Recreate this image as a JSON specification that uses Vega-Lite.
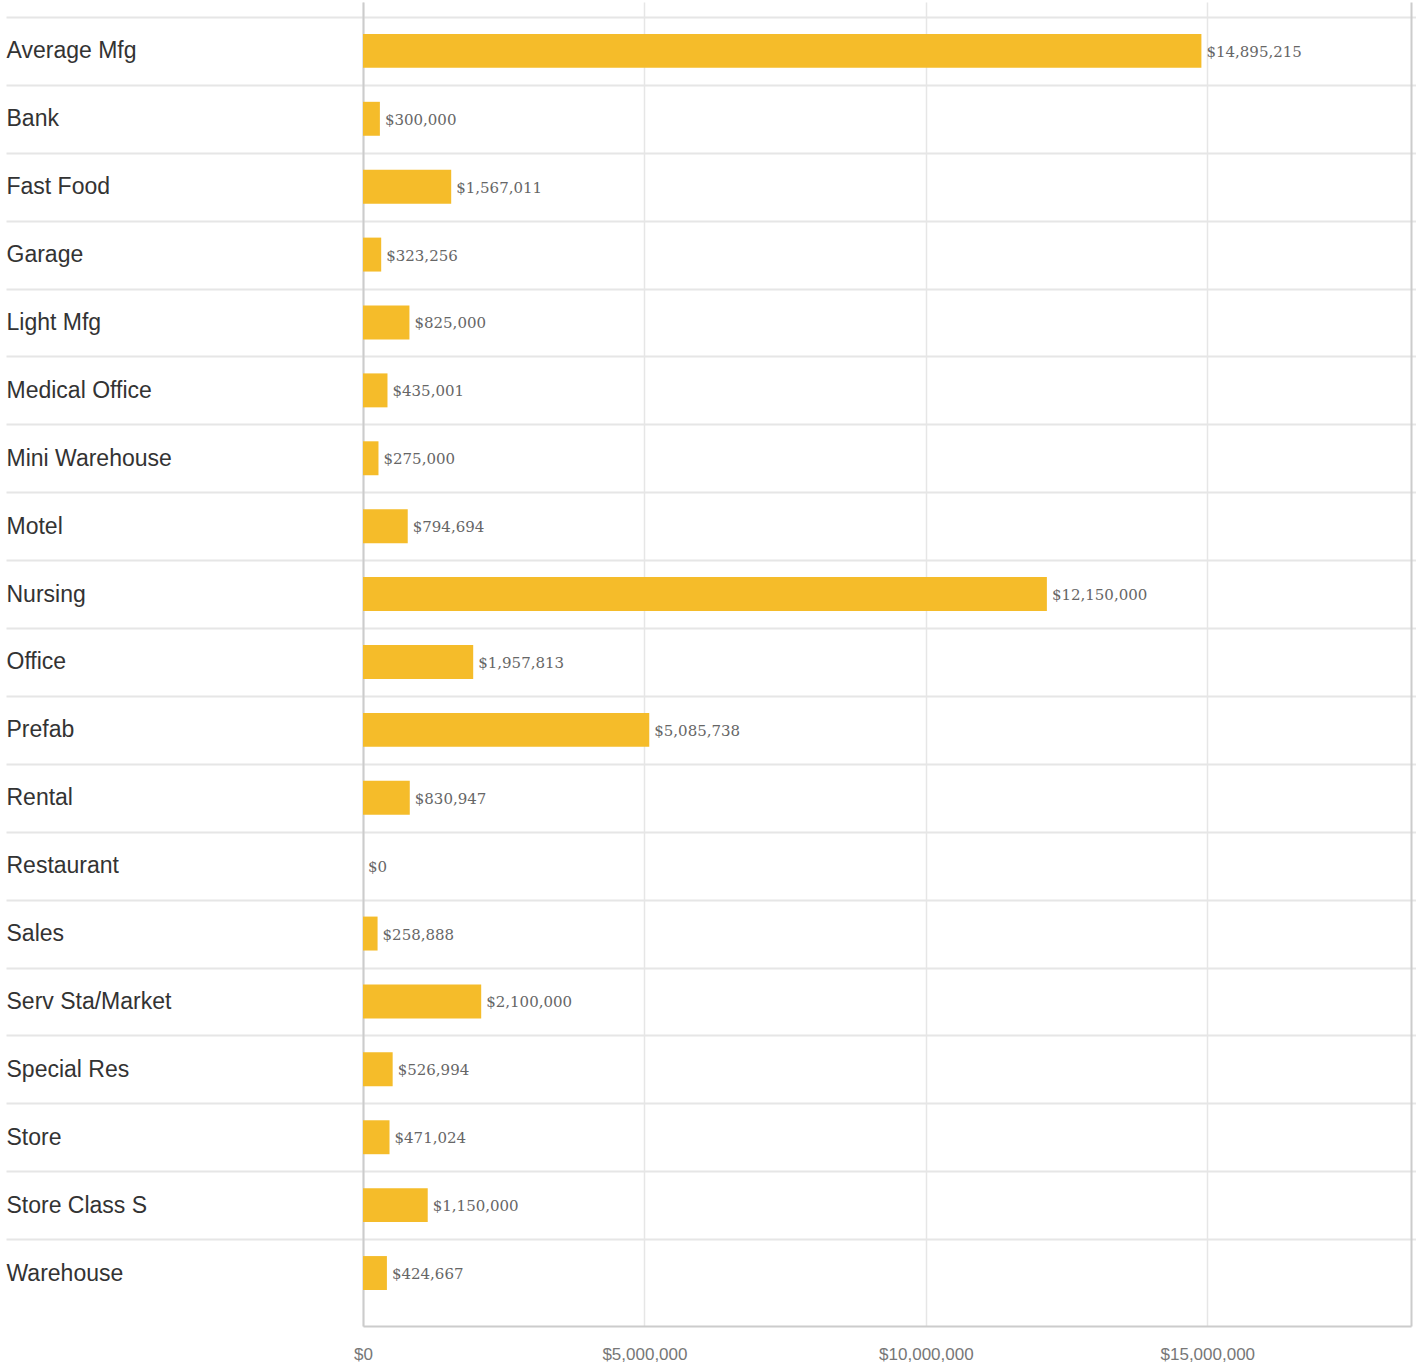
{
  "$schema": "https://vega.github.io/schema/vega-lite/v6.json",
  "width": 1048,
  "height": 1324,
  "padding": {"left": 5, "top": -9, "right": 0, "bottom": 0},
  "background": "white",
  "config": {"view": {"stroke": null}},
  "data": {"values": [
    {"type": "Average Mfg", "value": 14895215},
    {"type": "Bank", "value": 300000},
    {"type": "Fast Food", "value": 1567011},
    {"type": "Garage", "value": 323256},
    {"type": "Light Mfg", "value": 825000},
    {"type": "Medical Office", "value": 435001},
    {"type": "Mini Warehouse", "value": 275000},
    {"type": "Motel", "value": 794694},
    {"type": "Nursing", "value": 12150000},
    {"type": "Office", "value": 1957813},
    {"type": "Prefab", "value": 5085738},
    {"type": "Rental", "value": 830947},
    {"type": "Restaurant", "value": 0},
    {"type": "Sales", "value": 258888},
    {"type": "Serv Sta/Market", "value": 2100000},
    {"type": "Special Res", "value": 526994},
    {"type": "Store", "value": 471024},
    {"type": "Store Class S", "value": 1150000},
    {"type": "Warehouse", "value": 424667}
  ]},
  "resolve": {"axis": {"y": "independent"}},
  "layer": [
    {
      "mark": {"type": "bar", "color": "#F5BC2A", "height": {"band": 0.5}},
      "encoding": {
        "y": {
          "field": "type", "type": "nominal", "sort": null, "title": null,
          "scale": {"paddingInner": 0, "paddingOuter": 0.25, "align": 0.44},
          "axis": {
            "orient": "left",
            "tickBand": "extent",
            "ticks": true, "tickSize": 357, "tickWidth": 2,
            "tickColor": {"condition": {"test": "datum.value === 'Warehouse' && !datum.extra", "value": "transparent"}, "value": "#e6e6e6"},
            "grid": true, "gridWidth": 2,
            "gridColor": {"condition": {"test": "datum.value === 'Warehouse' && !datum.extra", "value": "transparent"}, "value": "#e6e6e6"},
            "domain": true, "domainColor": "#cccccc", "domainWidth": 2,
            "labelAlign": "left", "labelPadding": 0, "labelBaseline": "middle",
            "labelFont": "Liberation Sans", "labelFontSize": 23, "labelColor": "#333333",
            "labelLimit": 350
          }
        },
        "x": {
          "field": "value", "type": "quantitative", "title": null,
          "scale": {"domain": [0, 18619019], "nice": false, "zero": true},
          "axis": {
            "values": [0, 5000000, 10000000, 15000000],
            "format": "$,.0f",
            "grid": true, "gridColor": "#e6e6e6", "gridWidth": 1.5,
            "ticks": false,
            "domain": true, "domainColor": "#cccccc", "domainWidth": 2,
            "labelPadding": 20, "labelFont": "Liberation Sans", "labelFontSize": 17,
            "labelColor": "#777777", "labelFlush": false
          }
        }
      }
    },
    {
      "mark": {"type": "text", "align": "left", "baseline": "middle", "dx": 5, "dy": 1, "font": "DejaVu Serif", "fontSize": 15, "color": "#666666"},
      "encoding": {
        "y": {
          "field": "type", "type": "nominal", "sort": null,
          "axis": {
            "orient": "right", "title": null, "labels": false,
            "tickBand": "extent", "ticks": true, "tickSize": 5, "tickWidth": 2,
            "tickColor": {"condition": {"test": "datum.value === 'Warehouse' && !datum.extra", "value": "transparent"}, "value": "#e6e6e6"},
            "grid": false, "domain": true, "domainColor": "#cccccc", "domainWidth": 2
          }
        },
        "x": {"field": "value", "type": "quantitative"},
        "text": {"field": "value", "type": "quantitative", "format": "$,.0f"}
      }
    }
  ]
}
